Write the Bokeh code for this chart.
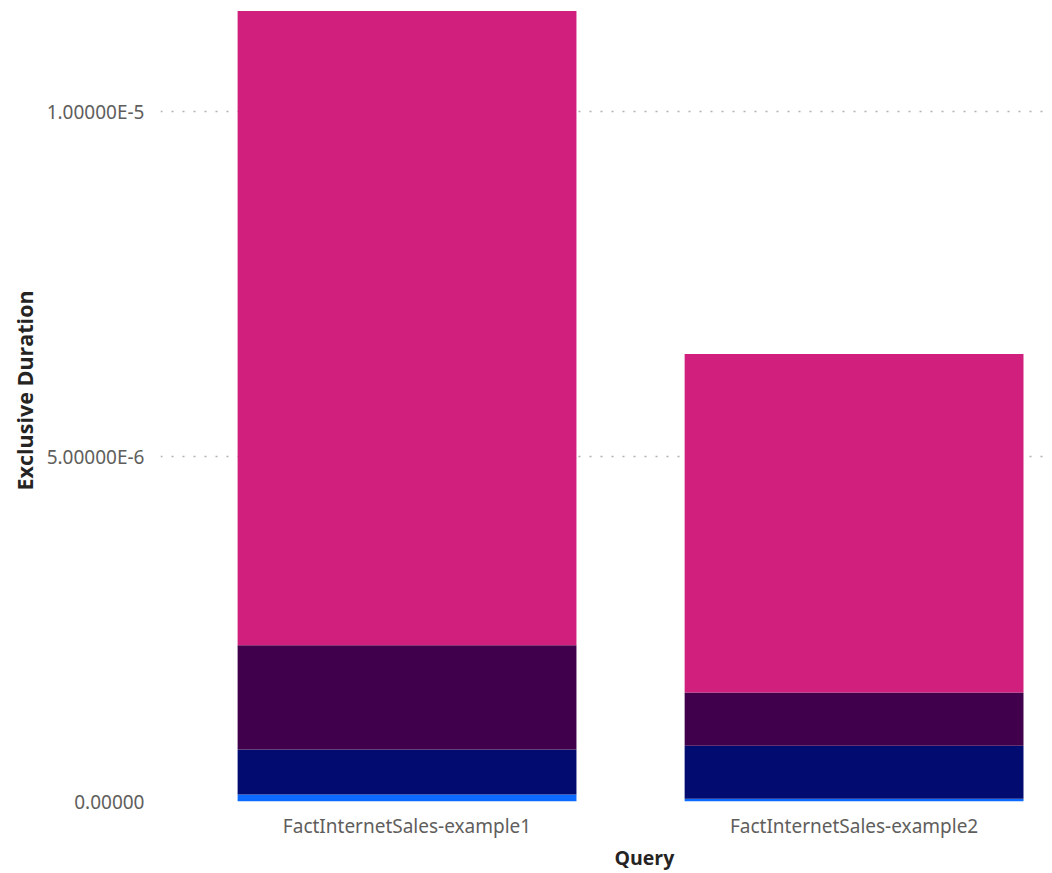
from bokeh.plotting import figure
from bokeh.models import Range1d, FixedTicker, ColumnDataSource, Title
from bokeh.embed import file_html
from bokeh.resources import INLINE

# ---- data ----
queries = ["FactInternetSales-example1", "FactInternetSales-example2"]
series = ["s1", "s2", "s3", "s4"]
s1 = [0.10e-6, 0.04e-6]
s2 = [0.655e-6, 0.77e-6]
s3 = [1.51e-6, 0.77e-6]
s4 = [9.20e-6, 4.91e-6]
colors = ["#0C6AFF", "#020B6F", "#40004B", "#D11F7E"]
y_ticks = [0, 5e-6, 1e-5]
y_tick_labels = ["0.00000", "5.00000E-6", "1.00000E-5"]
x_title = "Query"
y_title = "Exclusive Duration"

xpos = list(range(len(queries)))
src = ColumnDataSource(dict(x=xpos, s1=s1, s2=s2, s3=s3, s4=s4))

p = figure(frame_width=884, frame_height=793,
           x_range=Range1d(-0.5515, 1.426), y_range=Range1d(0, 11.5e-6),
           output_backend="svg", toolbar_location=None,
           min_border_left=160, min_border_right=0, min_border_top=8, min_border_bottom=56)
p.outline_line_color = None
p.background_fill_color = "white"
p.border_fill_color = "white"

p.vbar_stack(series, x="x", width=0.758, color=colors, source=src, line_width=0)

# grid
p.xgrid.grid_line_color = None
p.ygrid.ticker = FixedTicker(ticks=y_ticks)
p.ygrid.grid_line_color = "#B3B0AD"
p.ygrid.grid_line_dash = "2 9"
p.ygrid.grid_line_width = 1.5

# y axis
ya = p.yaxis[0]
ya.ticker = FixedTicker(ticks=y_ticks)
ya.major_label_overrides = {t: l for t, l in zip(y_ticks, y_tick_labels)}
ya.axis_line_color = None
ya.major_tick_line_color = None
ya.minor_tick_line_color = None
ya.major_label_standoff = 10
ya.major_label_text_font = "Noto Sans"
ya.major_label_text_font_size = "19px"
ya.major_label_text_color = "#605E5C"

# x axis
xa = p.xaxis[0]
xa.ticker = FixedTicker(ticks=xpos)
xa.major_label_overrides = {i: q for i, q in zip(xpos, queries)}
xa.axis_line_color = None
xa.major_tick_line_color = None
xa.minor_tick_line_color = None
xa.major_label_standoff = 5
xa.major_label_text_font = "Noto Sans"
xa.major_label_text_font_size = "19px"
xa.major_label_text_color = "#605E5C"

# axis titles (offset like the reference)
yt = Title(text=y_title, align="left", offset=311, standoff=10,
           text_font="Open Sans", text_font_style="bold", text_font_size="21.5px",
           text_color="#252423")
p.add_layout(yt, "left")
xt = Title(text=x_title, align="left", offset=454, standoff=1,
           text_font="Open Sans", text_font_style="bold", text_font_size="19.5px",
           text_color="#252423")
p.add_layout(xt, "below")

open("out.html", "w").write(file_html(p, INLINE))
